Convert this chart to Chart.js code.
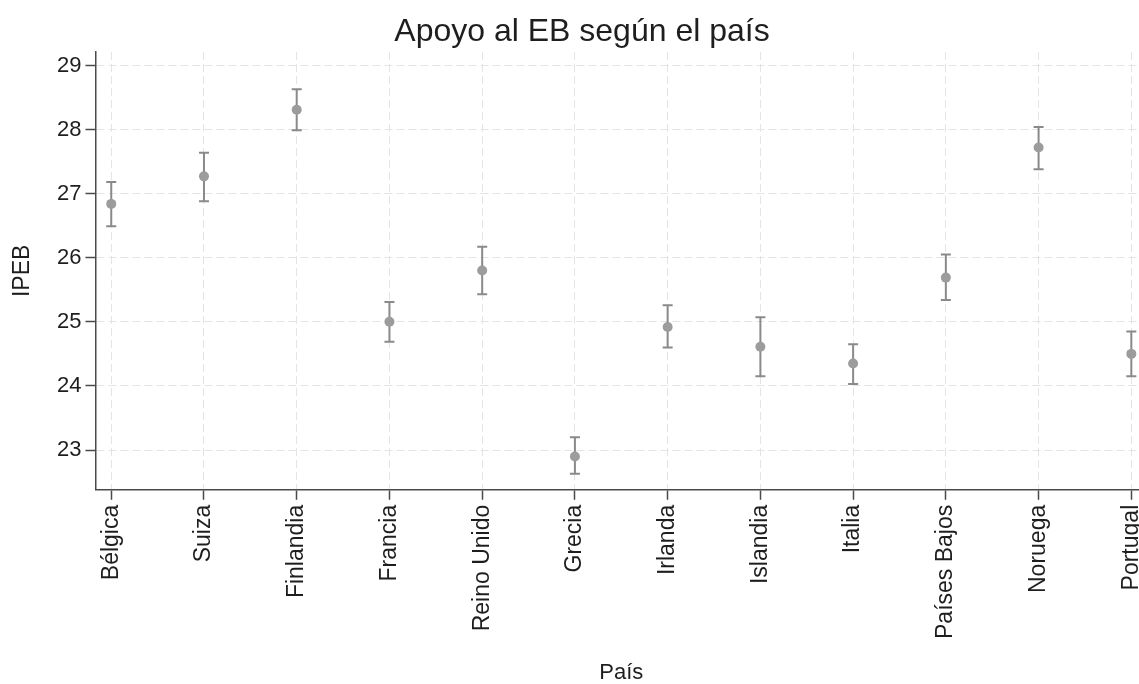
<!DOCTYPE html>
<html>
<head>
<meta charset="utf-8">
<script src="https://cdn.jsdelivr.net/npm/chart.js@4.4.0/dist/chart.umd.min.js"></script>
<style>
  body { margin: 0; background: #fff; overflow: hidden; width: 1139px; height: 684px; }
  #contenedor { width: 1164px; height: 684px; }
</style>
</head>
<body>
<div id="contenedor"><canvas id="grafico"></canvas></div>
<script>
const paises = ["Bélgica", "Suiza", "Finlandia", "Francia", "Reino Unido", "Grecia",
  "Irlanda", "Islandia", "Italia", "Países Bajos", "Noruega", "Portugal"];
const media = [26.84, 27.27, 28.31, 25.00, 25.80, 22.90, 24.92, 24.61, 24.35, 25.69, 27.72, 24.50];
const inferior = [26.49, 26.88, 27.99, 24.69, 25.43, 22.63, 24.60, 24.15, 24.03, 25.34, 27.38, 24.15];
const superior = [27.18, 27.64, 28.63, 25.31, 26.17, 23.20, 25.26, 25.07, 24.65, 26.05, 28.04, 24.85];
const yTicks = [23, 24, 25, 26, 27, 28, 29];

const fuente = '"Liberation Sans", Arial, sans-serif';
const colorTexto = "#1e1e1e";
const colorEje = "#4a4a4a";
const colorGrid = "#e4e4e4";

// intervalos de confianza (rcap)
const barrasError = {
  id: "barrasError",
  beforeDatasetsDraw(chart) {
    const { ctx, scales: { x, y } } = chart;
    ctx.save();
    ctx.strokeStyle = "#8a8a8a";
    ctx.lineWidth = 2;
    paises.forEach((p, i) => {
      const px = x.getPixelForValue(i);
      const yLo = y.getPixelForValue(inferior[i]);
      const yHi = y.getPixelForValue(superior[i]);
      ctx.beginPath();
      ctx.moveTo(px, yLo);
      ctx.lineTo(px, yHi);
      ctx.moveTo(px - 5, yLo);
      ctx.lineTo(px + 5, yLo);
      ctx.moveTo(px - 5, yHi);
      ctx.lineTo(px + 5, yHi);
      ctx.stroke();
    });
    ctx.restore();
  }
};

const ctx = document.getElementById("grafico").getContext("2d");
new Chart(ctx, {
  type: "scatter",
  data: {
    datasets: [{
      data: media.map((m, i) => ({ x: i, y: m })),
      pointRadius: 5,
      pointBackgroundColor: "#9c9c9c",
      pointBorderWidth: 0,
      showLine: false
    }]
  },
  options: {
    responsive: true,
    maintainAspectRatio: false,
    animation: false,
    layout: { padding: 0 },
    plugins: {
      legend: { display: false },
      tooltip: { enabled: false },
      title: {
        display: true,
        text: "Apoyo al EB según el país",
        color: colorTexto,
        font: { family: fuente, size: 32, weight: "normal", lineHeight: 1 },
        padding: { top: 16, bottom: 4 }
      }
    },
    scales: {
      x: {
        type: "linear",
        min: -0.17,
        max: 11.17,
        afterBuildTicks: (scale) => { scale.ticks = paises.map((p, i) => ({ value: i })); },
        ticks: {
          autoSkip: false,
          minRotation: 90,
          maxRotation: 90,
          padding: 5,
          color: colorTexto,
          font: { family: fuente, size: 23 },
          callback: (v) => paises[v]
        },
        grid: { color: colorGrid, lineWidth: 1, tickLength: 10, tickColor: colorEje, tickWidth: 1.5 },
        border: { color: colorEje, width: 1.5, dash: [8, 4] },
        title: {
          display: true,
          text: "País",
          color: colorTexto,
          font: { family: fuente, size: 22, lineHeight: 1 },
          padding: { top: 18, bottom: 0 }
        }
      },
      y: {
        min: 22.38,
        max: 29.21,
        afterBuildTicks: (scale) => { scale.ticks = yTicks.map((v) => ({ value: v })); },
        ticks: {
          padding: 4,
          color: colorTexto,
          font: { family: fuente, size: 22 }
        },
        grid: { color: colorGrid, lineWidth: 1, tickLength: 10, tickColor: colorEje, tickWidth: 1.5 },
        border: { color: colorEje, width: 1.5, dash: [8, 4] },
        title: {
          display: true,
          text: "IPEB",
          color: colorTexto,
          font: { family: fuente, size: 23, lineHeight: 1 },
          padding: { top: 11, bottom: 19 }
        }
      }
    }
  },
  plugins: [barrasError]
});
</script>
</body>
</html>
